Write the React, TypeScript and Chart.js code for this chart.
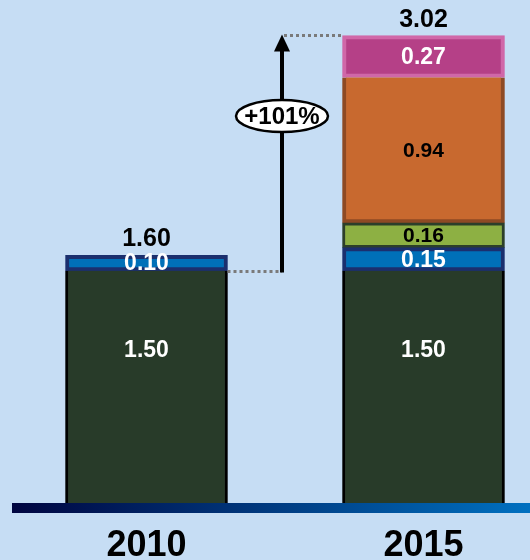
import React, { useEffect, useRef } from "react";
import { Chart, registerables } from "chart.js";

Chart.register(...registerables);

// ---- data ----
const years = ["2010", "2015"];
const baseValues: (number | null)[] = [1.5, 1.5];
const blueValues: (number | null)[] = [0.1, 0.15];
const greenValues: (number | null)[] = [null, 0.16];
const orangeValues: (number | null)[] = [null, 0.94];
const pinkValues: (number | null)[] = [null, 0.27];

const FONT = "'Liberation Sans', Arial, sans-serif";

const annotPlugin = {
  id: "annot",
  afterDatasetsDraw(chart: any) {
    const ctx = chart.ctx;
    const x = chart.scales.x;
    const y = chart.scales.y;
    ctx.save();

    // segment labels
    chart.data.datasets.forEach((ds: any, di: number) => {
      const meta = chart.getDatasetMeta(di);
      ds.data.forEach((v: number | null, i: number) => {
        if (v == null) return;
        const el: any = meta.data[i];
        const frac = ds.labelFrac ?? 0.5;
        const ly = el.base + (el.y - el.base) * frac;
        ctx.font = `bold ${ds.labelSize}px ${FONT}`;
        ctx.fillStyle = ds.labelColor;
        ctx.textAlign = "center";
        ctx.textBaseline = "middle";
        ctx.fillText(v.toFixed(2), el.x, ly + 1);
      });
    });

    // totals
    const totals = years.map((_, i) =>
      chart.data.datasets.reduce((s: number, ds: any) => s + (ds.data[i] ?? 0), 0)
    );
    totals.forEach((t: number, i: number) => {
      const px = x.getPixelForValue(i);
      const py = y.getPixelForValue(t);
      ctx.font = `bold 25px ${FONT}`;
      ctx.fillStyle = "#000";
      ctx.textAlign = "center";
      ctx.textBaseline = "alphabetic";
      ctx.fillText(t.toFixed(2), px, py - 9);
    });

    // growth arrow
    const start = baseValues[0] as number;
    const end = totals[1];
    const halfW = 81;
    const c0 = x.getPixelForValue(0);
    const c1 = x.getPixelForValue(1);
    const ax = Math.round((c0 + c1) / 2 - 3);
    const yLow = Math.round(y.getPixelForValue(start)) + 0.5;
    const yHigh = Math.round(y.getPixelForValue(end)) - 0.5;

    ctx.strokeStyle = "#7a7a7a";
    ctx.lineWidth = 3;
    ctx.setLineDash([3, 3]);
    ctx.beginPath();
    ctx.moveTo(c0 + halfW, yLow);
    ctx.lineTo(ax, yLow);
    ctx.moveTo(ax + 2, yHigh);
    ctx.lineTo(c1 - halfW, yHigh);
    ctx.stroke();
    ctx.setLineDash([]);

    ctx.strokeStyle = "#000";
    ctx.lineWidth = 4;
    ctx.beginPath();
    ctx.moveTo(ax, yLow + 1);
    ctx.lineTo(ax, yHigh + 14);
    ctx.stroke();
    ctx.fillStyle = "#000";
    ctx.beginPath();
    ctx.moveTo(ax, yHigh - 1);
    ctx.lineTo(ax - 8, yHigh + 16);
    ctx.lineTo(ax + 8, yHigh + 16);
    ctx.closePath();
    ctx.fill();

    // ellipse label
    const ey = y.getPixelForValue(2.5);
    ctx.beginPath();
    ctx.ellipse(ax, ey, 46, 16, 0, 0, Math.PI * 2);
    ctx.fillStyle = "#fff";
    ctx.fill();
    ctx.lineWidth = 2.5;
    ctx.strokeStyle = "#000";
    ctx.stroke();
    const pct = Math.round((end / start - 1) * 100);
    ctx.font = `bold 24px ${FONT}`;
    ctx.fillStyle = "#000";
    ctx.textAlign = "center";
    ctx.textBaseline = "middle";
    ctx.fillText(`+${pct}%`, ax, ey + 1);

    // baseline gradient bar
    const by = y.getPixelForValue(0);
    const grad = ctx.createLinearGradient(12, 0, 530, 0);
    grad.addColorStop(0, "#000540");
    grad.addColorStop(1, "#0070c0");
    ctx.fillStyle = grad;
    ctx.fillRect(12, by, 518, 10);

    // year labels
    ctx.font = `bold 36px ${FONT}`;
    ctx.fillStyle = "#000";
    ctx.textAlign = "center";
    ctx.textBaseline = "alphabetic";
    years.forEach((yr, i) => {
      ctx.fillText(yr, x.getPixelForValue(i), by + 53);
    });

    ctx.restore();
  },
};

export default function App() {
  const ref = useRef<HTMLCanvasElement | null>(null);

  useEffect(() => {
    if (!ref.current) return;
    const chart = new Chart(ref.current, {
      type: "bar",
      data: {
        labels: years,
        datasets: [
          {
            label: "base",
            data: baseValues,
            backgroundColor: "#283b29",
            borderColor: "#000",
            borderWidth: { left: 3, right: 3, top: 0, bottom: 0 },
            borderSkipped: false,
            labelColor: "#fff",
            labelSize: 23,
            labelFrac: 0.66,
          } as any,
          {
            label: "blue",
            data: blueValues,
            backgroundColor: "#0070b8",
            borderColor: "#1b2f6e",
            borderWidth: 4,
            borderSkipped: false,
            labelColor: "#fff",
            labelSize: 23,
          } as any,
          {
            label: "green",
            data: greenValues,
            backgroundColor: "#8db043",
            borderColor: "#2c3f2a",
            borderWidth: 3,
            borderSkipped: false,
            labelColor: "#000",
            labelSize: 21,
          } as any,
          {
            label: "orange",
            data: orangeValues,
            backgroundColor: "#c8692f",
            borderColor: "#8e4a24",
            borderWidth: { left: 4, right: 4, top: 0, bottom: 4 },
            borderSkipped: false,
            labelColor: "#000",
            labelSize: 21,
          } as any,
          {
            label: "pink",
            data: pinkValues,
            backgroundColor: "#b54087",
            borderColor: "#d067a8",
            borderWidth: 4,
            borderSkipped: false,
            labelColor: "#fff",
            labelSize: 23,
          } as any,
        ],
      },
      options: {
        animation: false,
        responsive: false,
        events: [],
        layout: { padding: { left: 146.5, right: 106.5, top: 0, bottom: 57 } },
        datasets: { bar: { barThickness: 162, clip: false as any, grouped: false } },
        plugins: { legend: { display: false }, tooltip: { enabled: false } },
        scales: {
          x: { stacked: true, offset: false, display: false },
          y: { stacked: true, min: 0, max: 3.25, display: false },
        },
      },
      plugins: [annotPlugin],
    });
    return () => chart.destroy();
  }, []);

  return (
    <div
      style={{
        position: "fixed",
        left: 0,
        top: 0,
        width: 530,
        height: 560,
        background: "#c6ddf4",
      }}
    >
      <canvas ref={ref} width={530} height={560} style={{ display: "block" }} />
    </div>
  );
}
